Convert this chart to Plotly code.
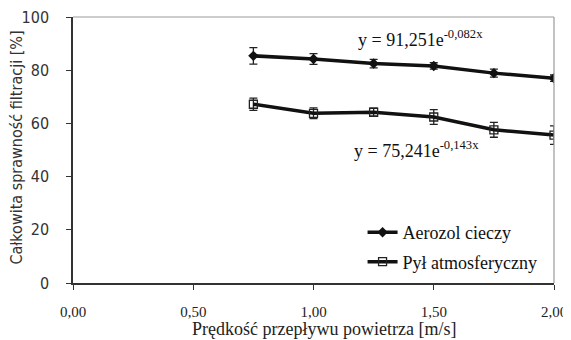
import plotly.graph_objects as go

velocity = [0.75, 1.00, 1.25, 1.50, 1.75, 2.00]
aerozol = [85.4, 84.2, 82.5, 81.6, 78.9, 77.0]
aerozol_err = [3.1, 2.0, 1.6, 1.2, 1.5, 1.2]
pyl = [67.2, 63.8, 64.2, 62.4, 57.6, 55.6]
pyl_err = [2.3, 2.0, 1.5, 2.8, 2.8, 3.5]
x_ticks = [0, 0.5, 1.0, 1.5, 2.0]
x_tick_labels = ["0,00", "0,50", "1,00", "1,50", "2,00"]
y_ticks = [0, 20, 40, 60, 80, 100]

serif = "'Liberation Serif', 'Times New Roman', serif"
sans = "'DejaVu Sans Condensed', 'DejaVu Sans', sans-serif"

fig = go.Figure()
fig.add_trace(go.Scatter(
    x=velocity, y=aerozol, name="Aerozol cieczy", mode="lines+markers",
    legendgroup="a",
    line=dict(color="#111111", width=3.5),
    marker=dict(symbol="diamond", size=8, color="#111111"),
    error_y=dict(type="data", array=aerozol_err, color="#222222", thickness=1.3, width=4),
))
fig.add_trace(go.Scatter(
    x=velocity, y=pyl, name="Pył atmosferyczny", mode="lines+markers",
    legendgroup="b",
    line=dict(color="#111111", width=3.5),
    marker=dict(symbol="square-open", size=8, color="#222222", line=dict(width=1.3)),
    error_y=dict(type="data", array=pyl_err, color="#222222", thickness=1.3, width=4),
))

fig.add_annotation(x=1.445, y=86.8, xref="x", yref="y", showarrow=False,
                   xanchor="center", yanchor="bottom",
                   text="y = 91,251e<sup>-0,082x</sup>",
                   font=dict(family=serif, size=18, color="#111111"))
fig.add_annotation(x=1.428, y=45.3, xref="x", yref="y", showarrow=False,
                   xanchor="center", yanchor="bottom",
                   text="y = 75,241e<sup>-0,143x</sup>",
                   font=dict(family=serif, size=18, color="#111111"))

# axis titles
fig.add_annotation(x=0.521, y=-0.173, xref="paper", yref="paper", showarrow=False,
                   xanchor="center", yanchor="middle",
                   text="Prędkość przepływu powietrza [m/s]",
                   font=dict(family=serif, size=18, color="#222222"))
fig.add_annotation(x=-0.1164, y=0.509, xref="paper", yref="paper", showarrow=False,
                   xanchor="center", yanchor="middle", textangle=-90,
                   text="Całkowita sprawność filtracji [%]",
                   font=dict(family=sans, size=16, color="#333333"))

# page body has an 8px margin, so the figure is sized to fit the 571x340 window
fig.update_layout(
    width=563, height=332,
    margin=dict(l=65, r=17, t=9, b=57, autoexpand=False),
    paper_bgcolor="white", plot_bgcolor="white",
    showlegend=True,
    legend=dict(x=0.602, y=0.259, xanchor="left", yanchor="top",
                font=dict(family=serif, size=18, color="#111111"),
                bgcolor="rgba(255,255,255,0)", tracegroupgap=3, itemwidth=30),
    xaxis=dict(range=[0, 2], tickvals=x_ticks, ticktext=x_tick_labels,
               automargin=False, ticklabeloverflow="allow",
               showgrid=False, zeroline=False, showline=True, linecolor="#333333",
               linewidth=1.5, ticks="outside", ticklen=5, tickcolor="#333333",
               ticklabelstandoff=9,
               tickfont=dict(family=serif, size=15, color="#222222")),
    yaxis=dict(range=[0, 100], tickvals=y_ticks, showgrid=False, zeroline=False,
               automargin=False, ticklabeloverflow="allow",
               showline=True, linecolor="#333333", linewidth=1.5,
               ticks="outside", ticklen=5, tickcolor="#333333",
               ticklabelstandoff=14,
               tickfont=dict(family=sans, size=16, color="#333333")),
    shapes=[
        dict(type="line", xref="paper", yref="paper", x0=0, x1=1, y0=1, y1=1,
             line=dict(color="#999999", width=1.2)),
        dict(type="line", xref="paper", yref="paper", x0=1, x1=1, y0=0, y1=1,
             line=dict(color="#999999", width=1.2)),
    ],
)

fig.write_html("out.html")
